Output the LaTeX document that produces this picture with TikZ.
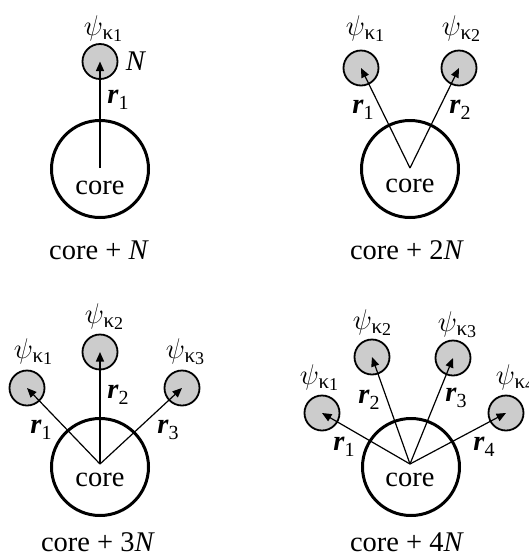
\RequirePackage{fix-cm}
\documentclass[tikz,border=0pt]{standalone}
\usepackage{fontspec}
\setmainfont{Liberation Serif}
\usetikzlibrary{arrows.meta}
\newcommand{\psilab}[1]{$\psi$\kern-0.5pt\raisebox{-0.3ex}{\fontsize{21}{21}\selectfont κ\raisebox{-0.2ex}{\fontsize{18}{18}\selectfont #1}}}
\newcommand{\rlab}[1]{\textbf{\textit{r}}\raisebox{-0.45ex}{\fontsize{20}{20}\selectfont #1}}
\tikzset{
  every node/.style={inner sep=0pt, font=\fontsize{28.5}{34}\selectfont},
  corecirc/.style={circle, draw, line width=3pt, minimum size=97pt, inner sep=0pt},
  elec/.style={circle, draw, line width=1.8pt, fill=gray!40, minimum size=35pt, inner sep=0pt},
  vec/.style={-{Triangle[length=9.5pt,width=8pt]}, line width=1.2pt},
}
\begin{document}
\begin{tikzpicture}[x=1pt,y=-1pt]
\useasboundingbox (0,0) rectangle (529,558);
\clip (0,0) rectangle (529,558);
% ---------- panel 1 ----------
\node[corecirc] (c1) at (100,169) {};
\coordinate (o1) at (100,168);
\node[elec] (s11) at (100,61.5) {};
\node (t1) at (100,187.5) {core};
\draw[vec] (o1) -- (s11.center);
\node (p11) at (103,29) {\psilab{1}};
\node (n1) at (136,61) {\textit{N}};
\node (r11) at (118,100) {\rlab{1}};
\node (cap1) at (99,250) {core + \textit{N}};
% ---------- panel 2 ----------
\node[corecirc] (c2) at (410,169) {};
\coordinate (o2) at (410,168);
\node[elec] (s21) at (361,68) {};
\node[elec] (s22) at (459,68) {};
\node (t2) at (410,186) {core};
\draw[vec] (o2) -- (s21.center);
\draw[vec] (o2) -- (s22.center);
\node (p21) at (365,29) {\psilab{1}};
\node (p22) at (461,29) {\psilab{2}};
\node (r21) at (363,110) {\rlab{1}};
\node (r22) at (460,110) {\rlab{2}};
\node (cap2) at (407,250) {core + 2\textit{N}};
% ---------- panel 3 ----------
\node[corecirc] (c3) at (100,467) {};
\coordinate (o3) at (100,464);
\node[elec] (s31) at (27,388) {};
\node[elec] (s32) at (100,352) {};
\node[elec] (s33) at (182,388) {};
\node (t3) at (100,480) {core};
\draw[vec] (o3) -- (s31.center);
\draw[vec] (o3) -- (s32.center);
\draw[vec] (o3) -- (s33.center);
\node (p31) at (33,352) {\psilab{1}};
\node (p32) at (104,317) {\psilab{2}};
\node (p33) at (185,352) {\psilab{3}};
\node (r31) at (41,430) {\rlab{1}};
\node (r32) at (118,395) {\rlab{2}};
\node (r33) at (168,430) {\rlab{3}};
\node (cap3) at (98,542) {core + 3\textit{N}};
% ---------- panel 4 ----------
\node[corecirc] (c4) at (411,467) {};
\coordinate (o4) at (410,464);
\node[elec] (s41) at (322,413) {};
\node[elec] (s42) at (372,357) {};
\node[elec] (s43) at (453,358) {};
\node[elec] (s44) at (506,413) {};
\node (t4) at (410,480) {core};
\draw[vec] (o4) -- (s41.center);
\draw[vec] (o4) -- (s42.center);
\draw[vec] (o4) -- (s43.center);
\draw[vec] (o4) -- (s44.center);
\node (p41) at (319,378) {\psilab{1}};
\node (p42) at (372,323) {\psilab{2}};
\node (p43) at (457,325) {\psilab{3}};
\node (p44) at (515,378) {\psilab{4}};
\node (r41) at (344,447) {\rlab{1}};
\node (r42) at (369,400) {\rlab{2}};
\node (r43) at (456,398) {\rlab{3}};
\node (r44) at (484,447) {\rlab{4}};
\node (cap4) at (407,542) {core + 4\textit{N}};
\end{tikzpicture}
\end{document}
